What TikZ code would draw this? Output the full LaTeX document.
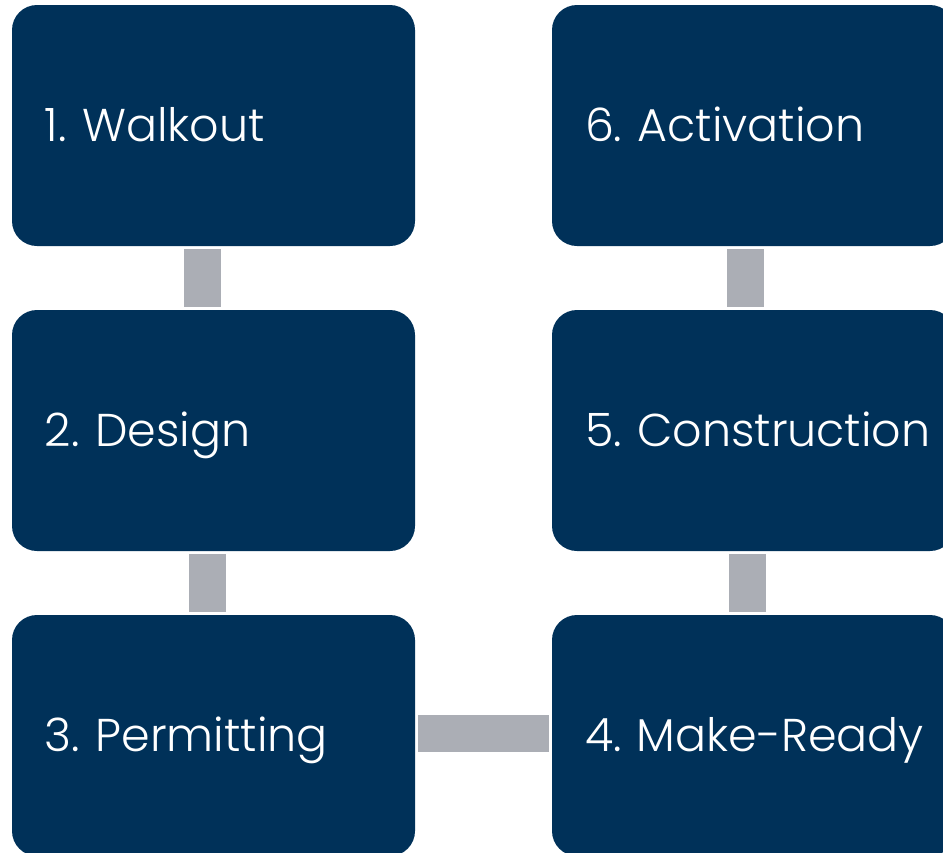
\documentclass[tikz,border=0pt]{standalone}
\usepackage{fontspec}
\usepackage{xcolor}
\usepackage{tikz}
\usetikzlibrary{positioning}
\setmainfont{Poppins}[UprightFont=* Light]
\definecolor{stepnavy}{RGB}{0,49,89}
\definecolor{linkgray}{RGB}{171,174,181}
\hyphenpenalty=10000
\exhyphenpenalty=10000

\begin{document}
\begin{tikzpicture}[x=1pt, y=-1pt, node distance=305pt,
  stepbox/.style={fill=stepnavy, text=white, rounded corners=25pt, minimum height=241pt,
    inner xsep=33pt, text width=337pt, align=left, text height=40pt, text depth=8pt,
    font=\fontsize{46}{55}\selectfont},
  link/.style={draw=linkgray, line width=37pt}]
\useasboundingbox (0,0) rectangle (943,852);
\node[stepbox] (walk) at (213.5,125.5) {1.~Walkout};
\node[stepbox] (design) [below of=walk] {2.~Design};
\node[stepbox] (permit) [below of=design] {3.~Permitting};
\node[stepbox] (ready) [right of=permit, node distance=540pt] {4.~Make-Ready};
\node[stepbox] (build) [above of=ready] {5.~Construction};
\node[stepbox] (active) [above of=build] {6.~Activation};

\draw[link] ([xshift=-11pt,yshift=-3pt]walk.south) -- ([xshift=-11pt,yshift=3pt]design.north);
\draw[link] ([xshift=-6pt,yshift=-3pt]design.south) -- ([xshift=-6pt,yshift=3pt]permit.north);
\draw[link] ([xshift=3pt,yshift=2pt]permit.east) -- ([xshift=-3pt,yshift=2pt]ready.west);
\draw[link] ([xshift=-6pt,yshift=3pt]ready.north) -- ([xshift=-6pt,yshift=-3pt]build.south);
\draw[link] ([xshift=-8pt,yshift=3pt]build.north) -- ([xshift=-8pt,yshift=-3pt]active.south);
\end{tikzpicture}
\end{document}
